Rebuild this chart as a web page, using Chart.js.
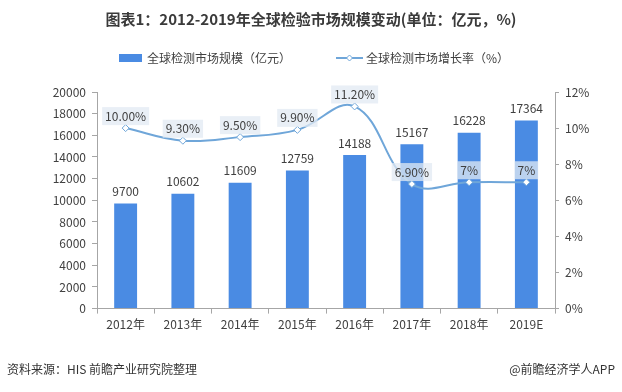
<!DOCTYPE html>
<html>
<head>
<meta charset="utf-8">
<script src="https://cdn.jsdelivr.net/npm/chart.js@4.4.1/dist/chart.umd.min.js"></script>
<style>
  html, body { margin: 0; padding: 0; background: #fff; }
  #wrap { width: 622px; height: 392px; position: relative; }
</style>
</head>
<body>
<div id="wrap"><canvas id="grafico" width="622" height="392"></canvas></div>
<script>
// dados do gráfico
const anos = ['2012年', '2013年', '2014年', '2015年', '2016年', '2017年', '2018年', '2019E'];
const escala = [9700, 10602, 11609, 12759, 14188, 15167, 16228, 17364];
const crescimento = [10.0, 9.3, 9.5, 9.9, 11.2, 6.9, 7.0, 7.0];
const rotulosCrescimento = ['10.00%', '9.30%', '9.50%', '9.90%', '11.20%', '6.90%', '7%', '7%'];
const ticksEsq = [0, 2000, 4000, 6000, 8000, 10000, 12000, 14000, 16000, 18000, 20000];
const ticksDir = [0, 2, 4, 6, 8, 10, 12];

const titulo = '图表1：2012-2019年全球检验市场规模变动(单位：亿元，%)';
const legendaBarra = '全球检测市场规模（亿元）';
const legendaLinha = '全球检测市场增长率（%）';
const fonte = '资料来源：HIS 前瞻产业研究院整理';
const marca = '@前瞻经济学人APP';

const corBarra = '#4a8be3';
const corLinha = '#6fa6d9';
const corTexto = '#404040';
const fam = '"Noto Sans CJK SC", "Noto Sans", sans-serif';

// textos fixos: título, legenda e rodapé
const textosPlugin = {
    id: 'textos',
    afterDraw(chart) {
        const ctx = chart.ctx;
        ctx.save();
        ctx.fillStyle = '#3a3a3a';
        ctx.font = 'bold 15px ' + fam;
        ctx.textAlign = 'center';
        ctx.textBaseline = 'middle';
        ctx.fillText(titulo, 311, 19);

        // legenda
        ctx.font = '12px ' + fam;
        ctx.textAlign = 'left';
        ctx.fillStyle = corBarra;
        ctx.fillRect(119, 54, 23, 8);
        ctx.fillStyle = corTexto;
        ctx.fillText(legendaBarra, 147, 58);
        ctx.strokeStyle = corLinha;
        ctx.lineWidth = 2;
        ctx.beginPath();
        ctx.moveTo(336, 58);
        ctx.lineTo(363, 58);
        ctx.stroke();
        ctx.fillStyle = '#fff';
        ctx.lineWidth = 1;
        ctx.beginPath();
        ctx.moveTo(349.5, 55);
        ctx.lineTo(352.5, 58);
        ctx.lineTo(349.5, 61);
        ctx.lineTo(346.5, 58);
        ctx.closePath();
        ctx.fill();
        ctx.stroke();
        ctx.fillStyle = corTexto;
        ctx.fillText(legendaLinha, 366, 58);

        // rodapé
        ctx.font = '12px ' + fam;
        ctx.fillStyle = '#333';
        ctx.fillText(fonte, 7, 369);
        ctx.textAlign = 'right';
        ctx.fillText(marca, 615, 369);
        ctx.restore();
    }
};

// rótulos de valores
const rotulosPlugin = {
    id: 'rotulos',
    afterDatasetsDraw(chart) {
        const ctx = chart.ctx;
        ctx.save();
        ctx.font = '12px ' + fam;
        ctx.textAlign = 'center';
        ctx.textBaseline = 'middle';
        const barras = chart.getDatasetMeta(1).data;
        barras.forEach((b, i) => {
            ctx.fillStyle = corTexto;
            ctx.fillText(String(escala[i]), b.x, b.y - 12);
        });
        const pontos = chart.getDatasetMeta(0).data;
        pontos.forEach((p, i) => {
            const txt = rotulosCrescimento[i];
            const w = ctx.measureText(txt).width + 6;
            const y = p.y - 12;
            ctx.fillStyle = 'rgba(225, 233, 243, 0.75)';
            ctx.fillRect(p.x - w / 2, y - 9, w, 18);
            ctx.fillStyle = corTexto;
            ctx.fillText(txt, p.x, y);
        });
        ctx.restore();
    }
};

const ctx = document.getElementById('grafico').getContext('2d');
window.grafico = new Chart(ctx, {
    data: {
        labels: anos,
        datasets: [{
            type: 'line',
            label: legendaLinha,
            data: crescimento,
            yAxisID: 'y1',
            borderColor: corLinha,
            borderWidth: 2,
            backgroundColor: '#fff',
            pointStyle: 'rectRot',
            pointRadius: 3.5,
            pointBorderWidth: 1,
            pointBorderColor: corLinha,
            pointBackgroundColor: '#fff',
            tension: 0.4,
            order: 0
        }, {
            type: 'bar',
            label: legendaBarra,
            data: escala,
            yAxisID: 'y',
            backgroundColor: corBarra,
            barPercentage: 0.4,
            categoryPercentage: 1.0,
            order: 1
        }]
    },
    options: {
        responsive: false,
        animation: false,
        layout: { padding: { top: 92, bottom: 56, left: 0, right: 0 } },
        plugins: {
            legend: { display: false },
            tooltip: { enabled: false }
        },
        scales: {
            x: {
                grid: {
                    display: true,
                    drawOnChartArea: false,
                    offset: true,
                    tickLength: 5,
                    color: '#a6a6a6'
                },
                border: { color: '#a6a6a6' },
                ticks: { color: corTexto, font: { family: fam, size: 12 }, padding: 4, maxRotation: 0 }
            },
            y: {
                position: 'left',
                min: 0,
                max: 20000,
                afterBuildTicks: (s) => { s.ticks = ticksEsq.map(v => ({ value: v })); },
                afterFit: (s) => { s.width = 97; },
                grid: { drawOnChartArea: false, tickLength: 5, color: '#a6a6a6' },
                border: { color: '#a6a6a6' },
                ticks: { color: corTexto, font: { family: fam, size: 12 }, padding: 6, callback: v => String(v) }
            },
            y1: {
                position: 'right',
                min: 0,
                max: 12,
                afterBuildTicks: (s) => { s.ticks = ticksDir.map(v => ({ value: v })); },
                afterFit: (s) => { s.width = 67; },
                grid: { drawOnChartArea: false, tickLength: 4, color: '#a6a6a6' },
                border: { color: '#a6a6a6' },
                ticks: { color: corTexto, font: { family: fam, size: 12 }, padding: 6, callback: v => v + '%' }
            }
        }
    },
    plugins: [textosPlugin, rotulosPlugin]
});
</script>
</body>
</html>
